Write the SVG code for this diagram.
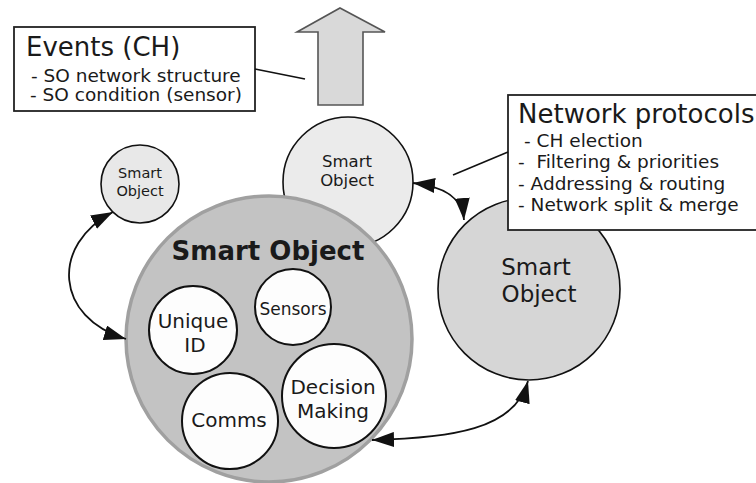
<svg xmlns="http://www.w3.org/2000/svg" width="756" height="483" viewBox="0 0 756 483">
<defs>
<style>
text{font-family:"DejaVu Sans","Liberation Sans",sans-serif;fill:#1a1a1a}
.so{stroke:#111;stroke-width:1.6}
.inner{fill:#fdfdfd;stroke:#111;stroke-width:2}
.box{fill:#fff;stroke:#222;stroke-width:1.8}
.conn{fill:none;stroke:#111;stroke-width:1.8}
.lead{fill:none;stroke:#111;stroke-width:1.6}
.c{text-anchor:middle}
.title{font-size:26px}
.item{font-size:18.5px}
</style>
<marker id="ah" viewBox="0 0 22 15" refX="22" refY="7.5" markerWidth="22" markerHeight="15" markerUnits="userSpaceOnUse" orient="auto-start-reverse">
<path d="M0,0 L22,7.5 L0,15 Z" fill="#111"/>
</marker>
</defs>

<g id="up-arrow">
<path d="M340,8 L385,32 L363,32 L363,105 L318,105 L318,32 L297,32 Z" fill="#d9d9d9" stroke="#555" stroke-width="1.6"/>
</g>

<g id="so-top">
<circle cx="348" cy="182" r="65" class="so" fill="#ebebeb"/>
<text class="c" x="347" y="167" font-size="16.5">Smart</text>
<text class="c" x="347" y="186" font-size="16.5">Object</text>
</g>

<g id="so-small">
<circle cx="140" cy="184" r="39" class="so" fill="#e8e8e8"/>
<text class="c" x="140" y="178" font-size="14.5">Smart</text>
<text class="c" x="140" y="196" font-size="14.5">Object</text>
</g>

<g id="so-main">
<circle cx="269" cy="339" r="143" fill="#c3c3c3" stroke="#a0a0a0" stroke-width="3.5"/>
<text class="c" x="268" y="260" font-size="26" font-weight="bold">Smart Object</text>
</g>

<g id="unique-id">
<circle cx="193" cy="330" r="44" class="inner"/>
<text class="c" x="193" y="328" font-size="20">Unique</text>
<text class="c" x="195" y="352" font-size="20">ID</text>
</g>

<g id="sensors">
<circle cx="293" cy="307" r="38" class="inner"/>
<text class="c" x="293" y="315" font-size="17">Sensors</text>
</g>

<g id="comms">
<circle cx="230" cy="421" r="48" class="inner"/>
<text class="c" x="229" y="427" font-size="20">Comms</text>
</g>

<g id="decision">
<circle cx="334" cy="396" r="52" class="inner"/>
<text class="c" x="333" y="394" font-size="20">Decision</text>
<text class="c" x="333" y="418" font-size="20">Making</text>
</g>

<g id="so-right">
<circle cx="529" cy="289" r="91" class="so" fill="#d6d6d6"/>
<text class="c" x="536" y="275" font-size="23">Smart</text>
<text class="c" x="539" y="302" font-size="23">Object</text>
</g>

<g id="events-box">
<rect x="14" y="27" width="241" height="84" class="box"/>
<text class="title" x="26" y="56">Events (CH)</text>
<text class="item" x="31" y="82">- SO network structure</text>
<text class="item" x="30" y="101">- SO condition (sensor)</text>
</g>

<g id="protocols-box">
<rect x="508" y="95" width="260" height="135" class="box"/>
<text class="title" x="518" y="123">Network protocols</text>
<text class="item" x="524" y="147">- CH election</text>
<text class="item" x="518" y="168" xml:space="preserve">-  Filtering &amp; priorities</text>
<text class="item" x="518" y="190">- Addressing &amp; routing</text>
<text class="item" x="518" y="211">- Network split &amp; merge</text>
</g>

<g id="connectors">
<path class="lead" d="M255,69 L305,79"/>
<path class="lead" d="M508,152 L453,175"/>
<path class="conn" d="M113,212 C50,245 55,318 126,339" marker-start="url(#ah)" marker-end="url(#ah)"/>
<path class="conn" d="M413,183 C440,186 462,195 464,220" marker-start="url(#ah)" marker-end="url(#ah)"/>
<path class="conn" d="M372,440 C450,438 515,430 528,381" marker-start="url(#ah)" marker-end="url(#ah)"/>
</g>
</svg>
